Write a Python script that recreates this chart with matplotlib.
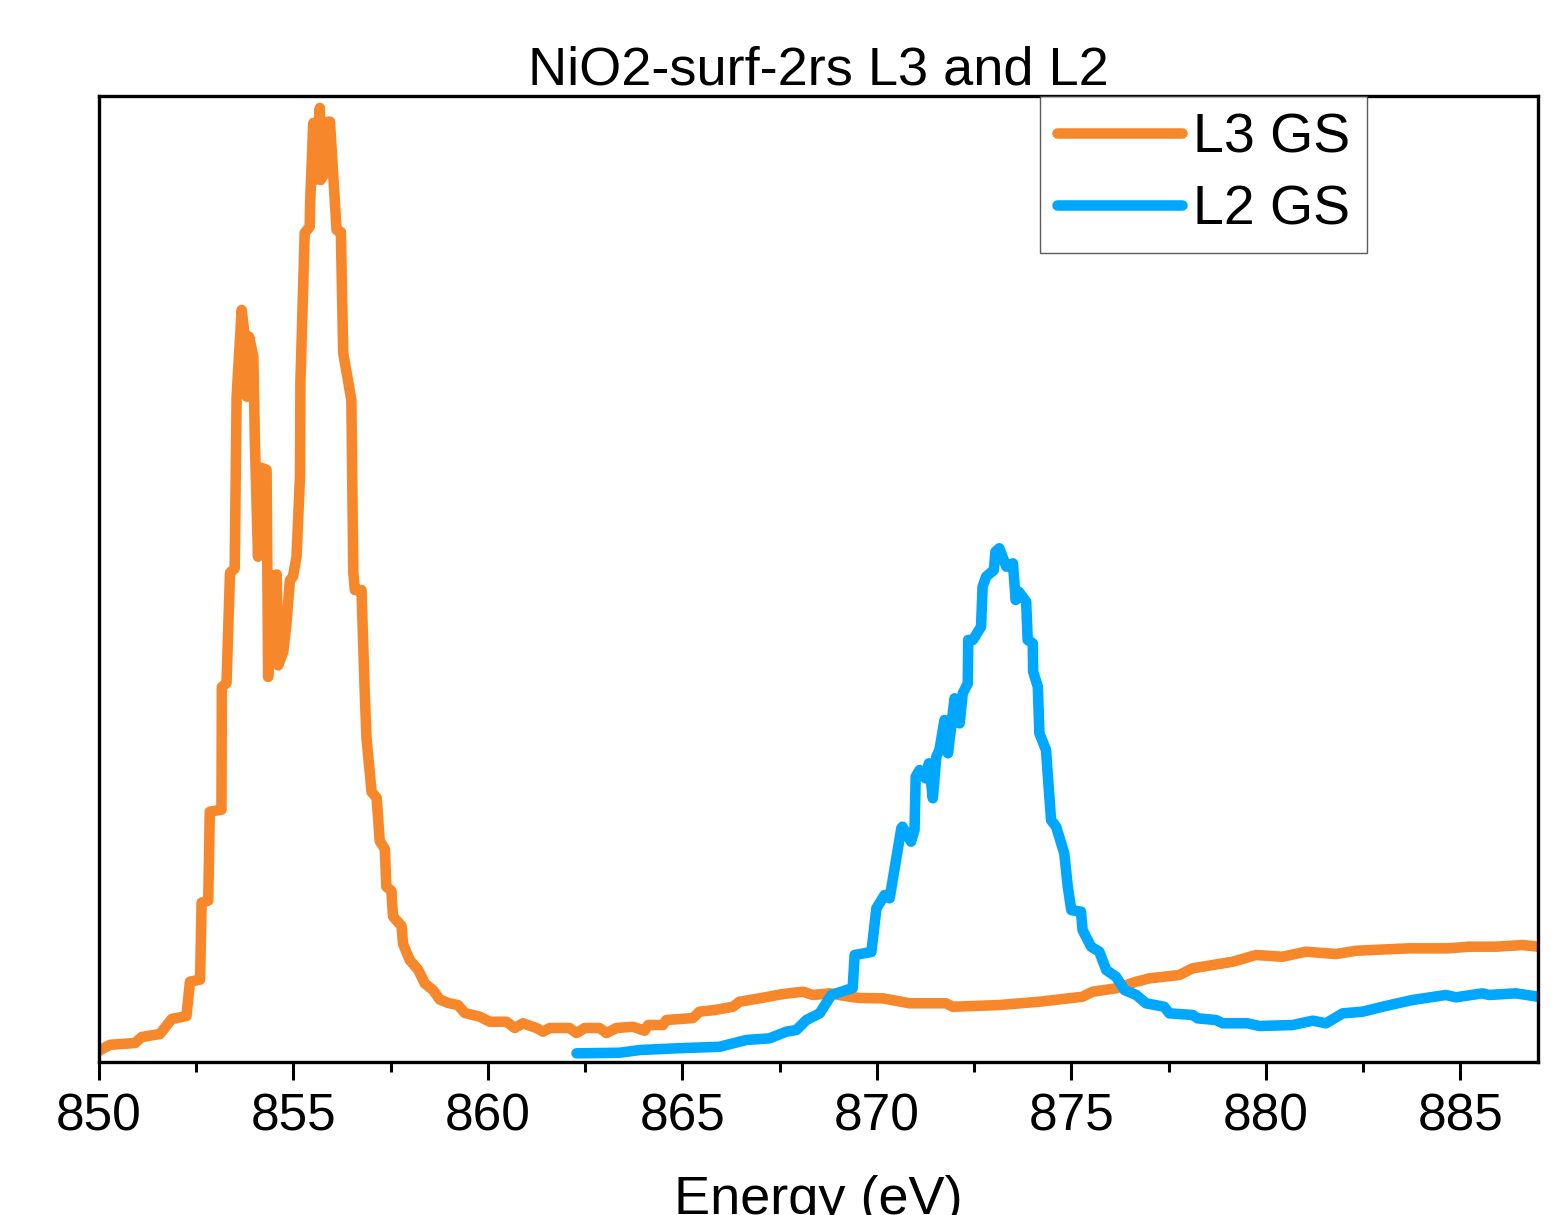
import matplotlib
matplotlib.use("Agg")
import matplotlib.pyplot as plt
from matplotlib.ticker import MultipleLocator, NullLocator

plt.rcParams["font.family"] = ["Liberation Sans", "DejaVu Sans"]

# L3 edge ground-state spectrum (energy in eV, intensity in arb. units)
l3_energy = [
    850.00, 850.28, 850.93, 851.10, 851.57, 851.87, 852.25, 852.34, 852.60, 852.64,
    852.81, 852.85, 853.15, 853.16, 853.28, 853.37, 853.49, 853.54, 853.67, 853.75,
    853.80, 853.86, 853.97, 854.01, 854.09, 854.18, 854.31, 854.35, 854.44, 854.57,
    854.61, 854.74, 854.82, 854.91, 854.99, 855.08, 855.17, 855.18, 855.25, 855.29,
    855.42, 855.43, 855.51, 855.55, 855.64, 855.68, 855.70, 855.81, 855.89, 855.94,
    856.11, 856.22, 856.28, 856.49, 856.54, 856.58, 856.75, 856.84, 856.88, 857.01,
    857.14, 857.22, 857.35, 857.39, 857.52, 857.56, 857.78, 857.82, 857.99, 858.21,
    858.38, 858.59, 858.76, 858.98, 859.23, 859.41, 859.79, 860.05, 860.48, 860.69,
    860.90, 861.25, 861.42, 861.59, 862.10, 862.28, 862.49, 862.87, 863.05, 863.30,
    863.73, 864.03, 864.12, 864.50, 864.59, 865.27, 865.44, 865.83, 866.30, 866.47,
    866.98, 867.59, 868.10, 868.36, 868.79, 869.30, 869.56, 870.16, 870.84, 871.78,
    871.95, 873.15, 874.18, 875.29, 875.55, 876.15, 876.67, 877.01, 877.78, 878.12,
    879.15, 879.75, 880.43, 881.03, 881.81, 882.32, 883.69, 884.71, 885.22, 885.92,
    886.60, 887.00,
]
l3_intensity = [
    1.16, 1.78, 1.97, 2.59, 2.90, 4.45, 4.76, 8.32, 8.53, 16.50,
    16.71, 25.91, 26.12, 38.82, 39.23, 50.67, 51.08, 68.87, 77.85, 75.08,
    68.87, 75.08, 73.01, 64.08, 52.31, 61.51, 61.30, 39.86, 50.26, 50.47,
    41.06, 42.48, 45.34, 49.86, 50.26, 52.31, 60.69, 70.29, 80.26, 85.82,
    86.47, 88.92, 97.20, 91.30, 96.82, 98.76, 91.30, 92.03, 97.34, 97.34,
    86.13, 85.92, 73.40, 68.53, 50.67, 48.86, 48.86, 37.58, 33.49, 27.95,
    27.35, 22.88, 22.05, 18.15, 17.73, 15.07, 14.08, 12.22, 10.56, 9.54,
    8.12, 7.45, 6.48, 6.11, 5.90, 5.07, 4.69, 4.17, 4.17, 3.52,
    4.01, 3.52, 3.14, 3.52, 3.52, 3.00, 3.52, 3.52, 3.00, 3.52,
    3.65, 3.24, 3.83, 3.83, 4.35, 4.55, 5.21, 5.38, 5.72, 6.24,
    6.59, 7.04, 7.28, 6.94, 7.11, 6.76, 6.63, 6.59, 6.08, 6.08,
    5.72, 5.90, 6.24, 6.76, 7.28, 7.63, 8.31, 8.66, 9.01, 9.70,
    10.38, 11.08, 10.90, 11.42, 11.18, 11.52, 11.77, 11.77, 11.94, 11.94,
    12.11, 11.94,
]

# L2 edge ground-state spectrum
l2_energy = [
    862.28, 863.39, 863.90, 864.85, 865.96, 866.64, 867.24, 867.67, 867.93, 868.19,
    868.53, 868.83, 869.38, 869.43, 869.86, 869.99, 870.20, 870.33, 870.63, 870.66,
    870.88, 870.97, 871.00, 871.10, 871.25, 871.34, 871.44, 871.53, 871.61, 871.74,
    871.83, 872.00, 872.13, 872.21, 872.34, 872.35, 872.47, 872.68, 872.72, 872.81,
    873.01, 873.05, 873.15, 873.33, 873.50, 873.57, 873.65, 873.84, 873.88, 874.01,
    874.02, 874.14, 874.18, 874.35, 874.48, 874.61, 874.82, 874.91, 875.00, 875.25,
    875.29, 875.51, 875.72, 875.90, 876.15, 876.37, 876.67, 876.92, 877.39, 877.52,
    878.12, 878.25, 878.72, 878.89, 879.53, 879.84, 880.69, 881.21, 881.55, 881.98,
    882.49, 883.00, 883.77, 884.63, 884.89, 885.57, 885.74, 886.43, 887.00,
]
l2_intensity = [
    0.90, 0.96, 1.24, 1.42, 1.58, 2.28, 2.45, 3.14, 3.31, 4.35,
    5.04, 6.94, 7.66, 11.08, 11.39, 15.91, 17.29, 16.95, 24.19, 24.36,
    22.81, 24.02, 29.53, 30.23, 29.37, 30.92, 27.30, 31.60, 32.30, 35.40,
    31.96, 37.65, 35.06, 38.17, 39.20, 43.69, 43.69, 45.06, 49.20, 50.24,
    50.93, 52.83, 53.18, 51.27, 51.62, 47.83, 48.69, 47.65, 43.69, 43.34,
    40.40, 38.85, 34.03, 32.30, 25.05, 24.36, 21.60, 18.15, 15.73, 15.56,
    13.66, 11.94, 11.42, 9.52, 8.83, 7.45, 6.94, 6.08, 5.72, 5.04,
    4.87, 4.52, 4.35, 4.01, 4.01, 3.73, 3.83, 4.28, 4.01, 5.04,
    5.21, 5.72, 6.42, 6.94, 6.70, 7.11, 6.94, 7.11, 6.76,
]

L3_COLOR = "#F7872B"
L2_COLOR = "#00A7FF"
LINE_W = 7.6

fig = plt.figure(figsize=(15.63, 12.15), dpi=100)
ax = fig.add_axes([0.0633, 0.1259, 0.9207, 0.7951])

ax.plot(l3_energy, l3_intensity, color=L3_COLOR, lw=LINE_W,
        solid_capstyle="round", solid_joinstyle="round", label="L3 GS")
ax.plot(l2_energy, l2_intensity, color=L2_COLOR, lw=LINE_W,
        solid_capstyle="round", solid_joinstyle="round", label="L2 GS")

ax.set_xlim(850, 887)
ax.set_ylim(0, 100)
ax.xaxis.set_major_locator(MultipleLocator(5))
ax.xaxis.set_minor_locator(MultipleLocator(2.5))
ax.yaxis.set_major_locator(NullLocator())
ax.tick_params(axis="x", which="major", direction="out", length=13, width=2.2,
               labelsize=37, pad=9, top=False)
ax.tick_params(axis="x", which="minor", direction="out", length=7, width=2.2,
               top=False)
for side in ax.spines.values():
    side.set_linewidth(2.4)

ax.set_title("NiO2-surf-2rs L3 and L2", fontsize=39, pad=1)
ax.set_xlabel("Energy (eV)", fontsize=39, labelpad=24)

leg = ax.legend(loc="upper right", bbox_to_anchor=(0.881, 1.0), fontsize=40,
                frameon=True, fancybox=False, handlelength=2.25,
                handletextpad=0.2, borderpad=0.3, labelspacing=0.35,
                borderaxespad=0.0)
leg.get_frame().set_edgecolor("#333333")
leg.get_frame().set_linewidth(1.0)

fig.savefig("out.png", dpi=100)
